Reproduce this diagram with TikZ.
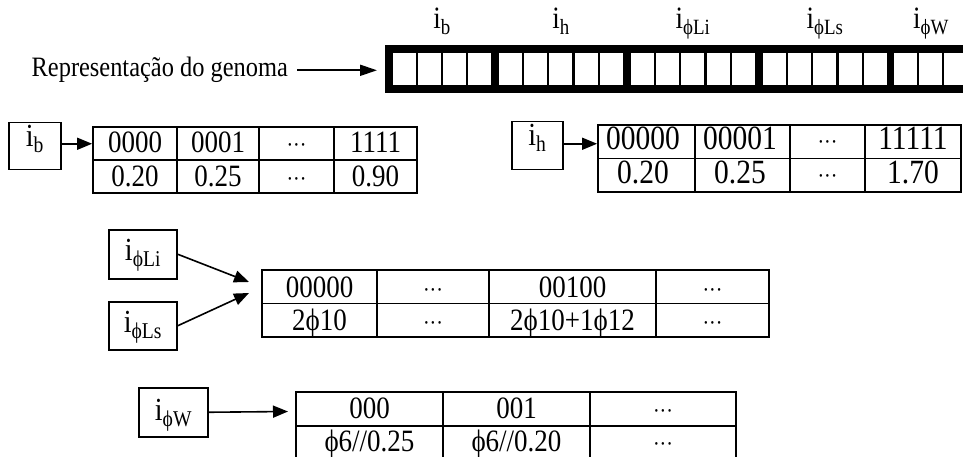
\documentclass[tikz,border=0pt]{standalone}
\usepackage{fontspec}
\setmainfont{Liberation Serif}
\usetikzlibrary{arrows.meta}
\newcommand\sbs[1]{\textsubscript{#1}}
\newcommand\st[1]{\scalebox{1}[1.15]{#1}}
\newcommand\dd{{\fontsize{20}{22}\selectfont ···}}
\tikzset{
  lab/.style={font=\fontsize{24.4}{30}\selectfont, inner sep=0pt},
  toplab/.style={font=\fontsize{27}{30}\selectfont, inner sep=0pt, anchor=base},
  ctext/.style={font=\fontsize{27}{30}\selectfont, inner sep=0pt, anchor=base},
  ctextb/.style={font=\fontsize{29.5}{34}\selectfont, inner sep=0pt, anchor=base},
  ibox/.style={draw, line width=1.5pt, inner sep=0pt, font=\fontsize{28}{30}\selectfont},
  tbl/.style={draw, line width=1.8pt, inner sep=0pt},
  rule/.style={line width=1.8pt},
  arr/.style={line width=1.6pt, -{Triangle[length=15pt,width=12pt]}},
  garr/.style={line width=2pt, -{Triangle[length=17pt,width=11pt]}},
}
\begin{document}
\begin{tikzpicture}[x=1pt,y=-1pt]
\useasboundingbox (0,0) rectangle (963,457);
\clip (0,0) rectangle (963,457);
% genome bar
\fill (385,45) rectangle (990,93);
\foreach \s/\n/\p in {393/4/25, 499/5/25.2, 631/5/25.2, 763/5/25.2, 894/3/25.2}{
  \foreach \k in {1,...,\n}{
    \fill[white] ({\s+(\k-1)*\p},53) rectangle ({\s+\k*\p-2.2},85);
  }
}
\node[toplab] (Lb) at (442,29) {\st{i\sbs{b}}};
\node[toplab] (Lh) at (561,29) {\st{i\sbs{h}}};
\node[toplab] (Lli) at (693,29) {\st{i\sbs{ϕLi}}};
\node[toplab] (Lls) at (825,29) {\st{i\sbs{ϕLs}}};
\node[toplab] (Lw) at (931,29) {\st{i\sbs{ϕW}}};
\node[lab, anchor=base east] (rep) at (288,77) {\st{Representação do genoma}};
\coordinate (gtip) at (377,70);
\draw[garr] (rep.east) ++(9,0) -- (gtip |- rep.east);

% table 1
\node[tbl, minimum width=324pt, minimum height=66pt] (t1) at (255,160) {};
\draw[rule] (t1.west) -- (t1.east);
\foreach \x in {177,259,334} \draw[rule] (\x,127) -- (\x,193);
\foreach \x/\a/\b [count=\i] in {135/0000/0.20, 218/0001/0.25, 296.5/\dd/\dd, 375.5/1111/0.90}{
  \node[ctext] (t1a\i) at (\x,153) {\st{\a}};
  \node[ctext] (t1b\i) at (\x,186) {\st{\b}};
}
% table 2
\node[tbl, minimum width=363pt, minimum height=67pt] (t2) at (779.5,158.5) {};
\draw[rule] (t2.west) -- (t2.east);
\foreach \x in {695,790,865} \draw[rule] (\x,125) -- (\x,192);
\foreach \x/\a/\b [count=\i] in {643/00000/0.20, 740/00001/0.25, 827.5/\dd/\dd, 913/11111/1.70}{
  \node[ctextb] (t2a\i) at (\x,150) {\st{\a}};
  \node[ctextb] (t2b\i) at (\x,183) {\st{\b}};
}
% table 3
\node[tbl, minimum width=507pt, minimum height=67pt] (t3) at (515.5,303.5) {};
\draw[rule] (t3.west) -- (t3.east);
\foreach \x in {377,489,656} \draw[rule] (\x,270) -- (\x,337);
\foreach \x/\a/\b [count=\i] in {319.5/00000/2ϕ10, 433/\dd/\dd, 572.5/00100/2ϕ10+1ϕ12, 712.5/\dd/\dd}{
  \node[ctext] (t3a\i) at (\x,297) {\st{\a}};
  \node[ctext] (t3b\i) at (\x,330) {\st{\b}};
}
% table 4
\node[tbl, minimum width=440pt, minimum height=68pt] (t4) at (516,426) {};
\draw[rule] (t4.west) -- (t4.east);
\foreach \x in {443,590} \draw[rule] (\x,392) -- (\x,460);
\foreach \x/\a/\b [count=\i] in {369.5/000/{ϕ6//0.25}, 516.5/001/{ϕ6//0.20}, 663/\dd/\dd}{
  \node[ctext] (t4a\i) at (\x,418) {\st{\a}};
  \node[ctext] (t4b\i) at (\x,451) {\st{\b}};
}
% boxes
\node[ibox, anchor=north, minimum width=52pt, text height=24pt, text depth=23pt] (bb) at (35,122) {\st{i\sbs{b}}};
\node[ibox, anchor=north, minimum width=51pt, text height=24pt, text depth=24pt] (bh) at (537.5,121) {\st{i\sbs{h}}};
\node[ibox, anchor=north, minimum width=68pt, text height=31pt, text depth=18pt] (bli) at (143,229) {\st{i\sbs{ϕLi}}};
\node[ibox, anchor=north, minimum width=68pt, text height=31pt, text depth=17pt] (bls) at (143,301) {\st{i\sbs{ϕLs}}};
\node[ibox, anchor=north, minimum width=69pt, text height=33pt, text depth=16pt] (bw) at (173.5,387) {\st{i\sbs{ϕW}}};
% arrows
\draw[arr] ([yshift=2.5pt]bb.east) -- ([yshift=2.5pt]bb.east -| t1.west);
\draw[arr] ([yshift=2pt]bh.east) -- ([yshift=2pt]bh.east -| t2.west);
\coordinate (tipA) at (249,282);
\coordinate (tipB) at (249,293);
\coordinate (tipC) at (288,411.5);
\draw[arr] (bli.east) -- (tipA);
\draw[arr] (bls.east) -- (tipB);
\draw[arr] (bw.east) -- (tipC);
\end{tikzpicture}
\end{document}
